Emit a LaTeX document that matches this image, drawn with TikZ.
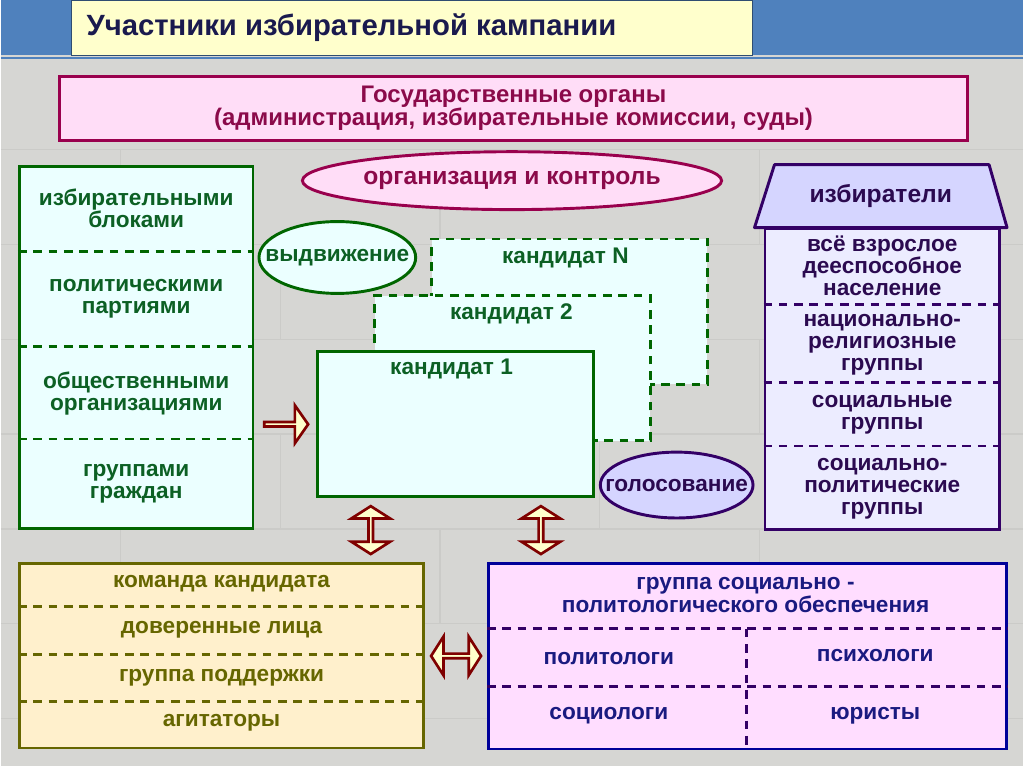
\documentclass[tikz,border=0pt]{standalone}
\usepackage{fontspec}
\setmainfont{Liberation Sans}
\usetikzlibrary{shapes.geometric,shapes.arrows,calc,positioning}
\definecolor{bggray}{RGB}{214,214,211}
\definecolor{bgline}{RGB}{203,203,200}
\definecolor{bandblue}{RGB}{79,129,189}
\definecolor{titlefill}{RGB}{255,255,204}
\definecolor{titleink}{RGB}{26,26,78}
\definecolor{govfill}{RGB}{255,221,247}
\definecolor{govline}{RGB}{153,0,77}
\definecolor{govink}{RGB}{139,10,74}
\definecolor{cyanfill}{RGB}{235,255,255}
\definecolor{greenline}{RGB}{0,102,0}
\definecolor{greenink}{RGB}{12,96,36}
\definecolor{votefill}{RGB}{213,213,255}
\definecolor{voterfill}{RGB}{236,236,255}
\definecolor{purpleline}{RGB}{51,0,102}
\definecolor{purpleink}{RGB}{43,10,80}
\definecolor{teamfill}{RGB}{255,240,204}
\definecolor{oliveline}{RGB}{102,102,0}
\definecolor{supfill}{RGB}{255,221,255}
\definecolor{navyline}{RGB}{0,0,153}
\definecolor{navyink}{RGB}{26,26,128}
\definecolor{arrowred}{RGB}{127,0,0}
\definecolor{arrowfill}{RGB}{255,255,204}

\begin{document}
\begin{tikzpicture}[x=0.75pt,y=-0.75pt,font=\bfseries\fontsize{17}{16.5}\selectfont]
\tikzset{box/.style={draw,line width=2.2pt,anchor=north west,inner sep=0pt}, sep/.style={dash pattern=on 6.5pt off 5pt,line width=2pt}, txt/.style={align=center,inner sep=1pt}, oval/.style={ellipse,draw,line width=2.2pt,inner xsep=-40pt,inner ysep=0pt}, cand/.style={box,draw=greenline,fill=cyanfill,minimum width=207pt,minimum height=109pt}, blockarrow/.style={single arrow,draw=arrowred,fill=arrowfill,line width=2pt,minimum width=28.5pt,minimum height=33pt,single arrow head extend=7.5pt,single arrow tip angle=110,inner sep=0pt}, twoway/.style={double arrow,draw=arrowred,fill=arrowfill,line width=2pt,minimum width=29pt,double arrow head extend=7.5pt,double arrow tip angle=115,inner sep=0pt}, small/.style={font=\bfseries\fontsize{17}{17}\selectfont}}
% Background and heading band.
\fill[bggray] (0,0) rectangle (1024,767);
\foreach \y in {150,245,340,435,530,625,720}{\draw[bgline,line width=1pt] (0,\y) -- (1024,\y);}
\foreach \x/\y in {120/150,440/150,760/150,280/245,600/245,920/245,120/340,440/340,760/340,280/435,600/435,920/435,120/530,440/530,760/530,280/625,600/625,920/625}{\draw[bgline,line width=1pt] (\x,\y) -- (\x,\y+95);}
\fill[bandblue] (0,0) rectangle (1024,55);
\draw[bandblue,line width=1.5pt] (0,58) -- (1024,58);
\node[anchor=north west,fill=titlefill,draw=bandblue!60!black,line width=0.6pt,minimum width=511.5pt,minimum height=41.25pt] (head) at (70,0) {};
\node[anchor=west,text=titleink,font=\bfseries\fontsize{22}{24}\selectfont] (headtext) at ($(head.west)+(11,0)$) {Участники избирательной кампании};
% State bodies on top.
\node[box,draw=govline,fill=govfill,minimum width=682.5pt,minimum height=48pt] (gov) at (57,75) {};
\node[txt,text=govink,font=\bfseries\fontsize{18}{17.5}\selectfont] at (gov.center) {Государственные органы\\(администрация, избирательные комиссии, суды)};
\node[oval,draw=govline,fill=govfill,minimum width=315pt,minimum height=43.5pt,text=govink,font=\bfseries\fontsize{18.5}{18}\selectfont] (control) at (512,181) {организация и контроль};
% Who nominates.
\node[box,draw=greenline,fill=cyanfill,minimum width=175.5pt,minimum height=272.25pt] (nominators) at (17,165) {};
\foreach \y in {252,347,440}{\draw[sep,greenline] (nominators.west |- 0,\y) -- (nominators.east |- 0,\y);}
\foreach \y/\t in {209/{избирательными\\блоками},299/{политическими\\партиями},394/{общественными\\организациями},485/{группами\\граждан}}{\node[txt,text=greenink] at (nominators.center |- 0,\y) {\t};}
% Candidates, back to front.
\node[cand,dashed,dash pattern=on 6.5pt off 5pt] (candN) at (430,238) {};
\node[text=greenink,inner sep=0pt] at ($(candN.north)+(-4,20)$) {кандидат N};
\node[cand,dashed,dash pattern=on 6.5pt off 5pt] (cand2) at (373,295) {};
\node[text=greenink,inner sep=0pt] at ($(cand2.north)+(-1,19)$) {кандидат 2};
\node[cand] (cand1) at (316,351) {};
\node[text=greenink,inner sep=0pt] at ($(cand1.north)+(-4,19)$) {кандидат 1};
\node[oval,draw=greenline,fill=cyanfill,minimum width=117.75pt,minimum height=54pt,text=greenink] (nominate) at (337,258) {выдвижение};
\node[blockarrow] (toCand) at ($(nominators.east |- cand1.center)!0.5!(cand1.west)$) {};
% Voters.
\draw[draw=purpleline,fill=votefill,line width=2.2pt,line join=round] (775,165) -- (990,165) -- (1008,228) -- (755,228) -- cycle;
\node[text=purpleink,font=\bfseries\fontsize{18.5}{18}\selectfont] (roof) at (881.5,196) {избиратели};
\node[box,draw=purpleline,fill=voterfill,minimum width=176.25pt,minimum height=225.75pt] (voters) at (764,228) {};
\foreach \y in {305,383,447}{\draw[sep,purpleline] (voters.west |- 0,\y) -- (voters.east |- 0,\y);}
\foreach \y/\t in {266/{всё взрослое\\дееспособное\\население},345/{национально-\\религиозные\\группы},416/{социальные\\группы},490/{социально-\\политические\\группы}}{\node[txt,text=purpleink] at (voters.center |- 0,\y) {\t};}
\node[oval,draw=purpleline,fill=votefill,minimum width=114.75pt,minimum height=49.5pt,text=purpleink] (voting) at (677,486) {голосование};
% Team and experts.
\node[box,draw=oliveline,fill=teamfill,minimum width=303.75pt,minimum height=138.75pt] (team) at (17,563) {};
\foreach \y in {608,656,703}{\draw[sep,oliveline] (team.west |- 0,\y) -- (team.east |- 0,\y);}
\foreach \y/\t in {585/{команда кандидата},631/{доверенные лица},679/{группа поддержки},724/{агитаторы}}{\node[txt,small,text=oliveline] at (team.center |- 0,\y) {\t};}
\node[box,draw=navyline,fill=supfill,minimum width=389.25pt,minimum height=139.5pt] (support) at (487,563) {};
\draw[sep,purpleline] (support.west |- 0,630) -- (support.east |- 0,630);
\draw[sep,purpleline] (support.west |- 0,688) -- (support.east |- 0,688);
\draw[sep,purpleline] (747,630) -- (support.south -| 747,0);
\node[txt,small,text=navyink] at (746,596) {группа социально -\\политологического обеспечения};
\foreach \x/\y/\t in {609/660/политологи,876/657/психологи,609/717/социологи,876/717/юристы}{\node[txt,small,text=navyink] at (\x,\y) {\t};}
% Links between the groups.
\node[twoway,minimum height=36pt,shape border rotate=90] (candTeam) at ($(cand1.south west)!0.5!(team.north east)$) {};
\node[twoway,minimum height=36pt,shape border rotate=90] (candSup) at ($(cand1.south east)!0.5!(support.north west)$) {};
\node[twoway,minimum height=37.5pt] (teamSup) at ($(team.east)!0.5!(support.west)$) {};
\end{tikzpicture}
\end{document}
